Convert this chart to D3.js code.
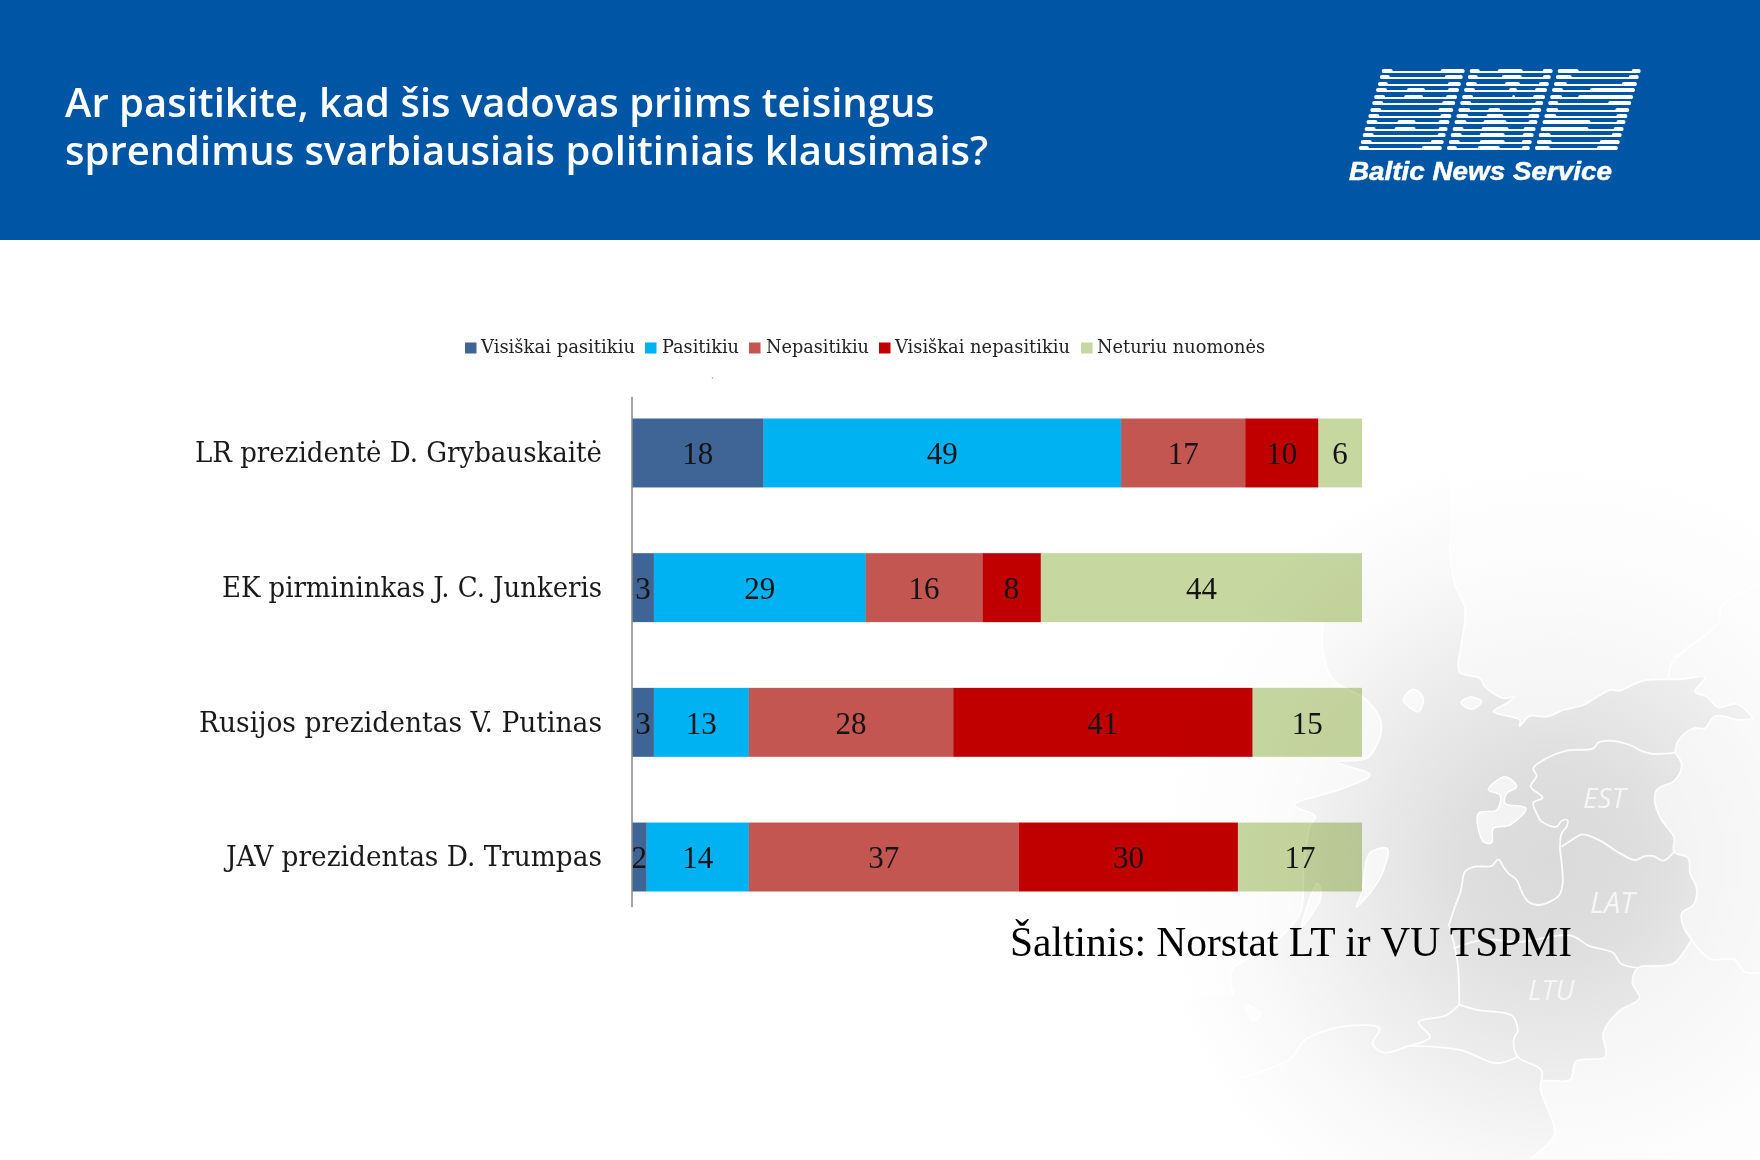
<!DOCTYPE html>
<html lang="lt">
<head>
<meta charset="utf-8">
<script src="https://cdn.jsdelivr.net/npm/d3@7/dist/d3.min.js"></script>
<style>
html,body{margin:0;padding:0;background:#fff;overflow:hidden}
svg{display:block}
.blend{mix-blend-mode:multiply}
</style>
</head>
<body>
<svg id="c" width="1760" height="1160" xmlns="http://www.w3.org/2000/svg"></svg>
<script>
const categories = ["LR prezidentė D. Grybauskaitė","EK pirmininkas J. C. Junkeris","Rusijos prezidentas V. Putinas","JAV prezidentas D. Trumpas"];
const seriesNames = ["Visiškai pasitikiu","Pasitikiu","Nepasitikiu","Visiškai nepasitikiu","Neturiu nuomonės"];
const visiskaiPasitikiu = [18,3,3,2];
const pasitikiu = [49,29,13,14];
const nepasitikiu = [17,16,28,37];
const visiskaiNepasitikiu = [10,8,41,30];
const neturiuNuomones = [6,44,15,17];
const seriesColors = ["#3F6596","#00B2F1","#C35651","#C00000","#C7D7A0"];
const titleLines = ["Ar pasitikite, kad šis vadovas priims teisingus","sprendimus svarbiausiais politiniais klausimais?"];
const sourceText = "Šaltinis: Norstat LT ir VU TSPMI";
const tickWidths = [407,380,403,376];
const legendLayout = [[465,481,154],[645,662,77],[749,766,103],[879,895,175],[1081,1097,168]];

const svg = d3.select("#c");
const defs = svg.append("defs");
const grad = defs.append("radialGradient").attr("id","bg").attr("gradientUnits","userSpaceOnUse")
  .attr("cx",1555).attr("cy",860).attr("r",410);
[[0,"#dadadb"],[.22,"#dedede"],[.48,"#ebebec"],[.74,"#f8f8f9"],[1,"#ffffff"]].forEach(s=>grad.append("stop").attr("offset",s[0]).attr("stop-color",s[1]));

svg.append("rect").attr("width",1760).attr("height",1160).attr("fill","#fff");
svg.append("rect").attr("x",1100).attr("y",240).attr("width",660).attr("height",920).attr("fill","url(#bg)");

/* ---------- background map ---------- */
const A = p=>[1360+p[0]/3,650+p[1]/3], B = p=>[1150+p[0]/2.57,480+p[1]/2.306];
const lineC = d3.line().curve(d3.curveCatmullRom.alpha(.5));
const closedC = d3.line().curve(d3.curveCatmullRomClosed.alpha(.5));
const gm = svg.append("g");

const finlandCoast = [...[[770,140],[780,230],[810,300],[800,380]].map(B),...[[298,65],[360,85],[375,110],[430,145],[465,140],[440,160],[400,185],[480,210],[478,228],[510,198],[560,200],[610,180],[670,165],[750,120],[780,122],[850,92],[960,88],[1035,82],[1005,125],[1040,140],[1075,172],[1130,162],[1180,205]].map(A)];
const finlandRussia = [...[[925,85],[935,40],[980,0]].map(A),...[[1345,410],[1460,330],[1470,290],[1565,240]].map(B)];
const russiaGulf = [[1180,205],[1140,210],[1065,198],[1035,235],[1000,235],[955,272],[945,308]].map(A);
const estNorthWest = [[945,308],[880,312],[850,305],[810,285],[745,272],[715,278],[700,295],[620,302],[560,325],[520,355],[530,378],[512,410],[548,443],[520,458],[530,490],[545,515],[590,530],[605,512],[622,510],[620,530],[605,550],[600,590],[606,650],[608,700],[598,735],[570,755],[535,765],[505,755],[485,725],[470,690],[445,670],[430,650],[415,628],[395,648],[345,650],[315,665],[303,720],[285,770],[265,830]].map(A);
const ltuCoast = [[770,1030],[790,1110],[795,1210]].map(B);
const ltuEastBorder = [[945,308],[965,345],[945,390],[890,420],[885,460],[905,510],[942,562],[942,605],[985,625],[990,670],[1010,715],[1000,765],[965,790],[970,830],[995,870]].map(A).concat([[1392,1060],[1345,1115],[1255,1125],[1240,1160],[1258,1195],[1205,1225],[1165,1275],[1170,1330],[1095,1340],[1080,1383],[1005,1390],[1035,1480],[1040,1510],[980,1565]].map(B));
const estLat = [[605,590],[635,570],[668,553],[720,572],[780,610],[825,630],[855,618],[880,618],[910,632],[942,605]].map(A);
const latLtu = [[780,1080],[860,1060],[950,1065],[1080,1050],[1130,1075],[1190,1090],[1210,1115],[1255,1125]].map(B);
const ltuSouth = [[795,1210],[840,1222],[930,1235],[945,1270],[935,1290],[945,1330],[1005,1360],[1005,1390]].map(B);
const kaliningrad = [[795,1210],[760,1235],[690,1250],[720,1285],[665,1305],[600,1320],[572,1300],[590,1265],[500,1260],[400,1290],[360,1335],[230,1380]].map(B);
const polandNorth = [[665,1305],[800,1315],[890,1345],[945,1330]].map(B);
const latRussia = [[1392,1060],[1440,1105],[1500,1105],[1530,1135],[1568,1135]].map(B);
const swedenCoast = [[445,330],[445,400],[470,460],[560,510],[595,565],[560,640],[480,650],[565,680],[500,710],[370,750],[425,775],[410,800],[395,900],[385,1000],[300,1080],[210,1130],[215,1190]].map(B);

const saaremaa = [[435,380],[470,410],[440,430],[435,460],[498,475],[450,525],[400,535],[395,578],[370,575],[355,490],[410,480],[420,435],[385,420]].map(A);
const gotland = [[160,118],[190,145],[175,185],[130,150]].map(A);
const faro = [[303,158],[333,140],[365,155],[335,178]].map(A);
const oland = [[610,850],[565,860],[552,900],[545,950],[530,985],[590,920]].map(B);
const oland2 = [[430,930],[390,1030],[440,960]].map(B);
const bornholm = [[245,1210],[285,1230],[265,1248]].map(B);

/* lighter land areas */
const poly = d3.line();
gm.append("path").attr("d",lineC(finlandCoast)+"L1760,718L1760,420L1450,420Z").attr("fill","#fff").attr("opacity",.6);
gm.append("path").attr("d",lineC(ltuEastBorder)+"L1760,1160L1760,718"+poly(russiaGulf.slice(0,-1)).replace("M","L")+"Z").attr("fill","#fff").attr("opacity",.6);
gm.append("path").attr("d",lineC(swedenCoast)+"L1150,1000L1150,600Z").attr("fill","#fff").attr("opacity",.6);

const outlines = [finlandCoast,finlandRussia,russiaGulf,estNorthWest,ltuCoast,ltuEastBorder,estLat,latLtu,ltuSouth,kaliningrad,polandNorth,latRussia,swedenCoast];
gm.selectAll("path.o").data(outlines).join("path").attr("class","o")
  .attr("d",lineC).attr("fill","none").attr("stroke","#fff").attr("stroke-width",1.8).attr("stroke-opacity",.9).attr("stroke-linejoin","round");
gm.selectAll("path.i").data([saaremaa,gotland,faro,oland,oland2,bornholm]).join("path").attr("class","i")
  .attr("d",closedC).attr("fill","#fff").attr("fill-opacity",.65).attr("stroke","#fff").attr("stroke-width",1.5);

gm.selectAll("text").data([["EST",1583,808,28],["LAT",1590,913,29],["LTU",1528,1000,28]]).join("text")
  .attr("x",d=>d[1]).attr("y",d=>d[2]).attr("font-size",d=>d[3]).attr("font-family","'Open Sans'").attr("font-style","italic")
  .attr("fill","#f6f6f6").text(d=>d[0]);

/* ---------- header ---------- */
svg.append("rect").attr("width",1760).attr("height",240).attr("fill","#0055A5");
svg.selectAll("text.title").data(titleLines).join("text").attr("class","title")
  .attr("x",65).attr("y",(d,i)=>117+i*48).attr("fill","#fff")
  .attr("font-family","'Open Sans'").attr("font-weight",600).attr("font-size",40).text(d=>d);

/* logo: one array of thick segments per row, per column */
const logoCol1 = [[[0,11],[59,83]],[[0,10],[65,83]],[[0,10],[70,83]],[[0,11],[31,49],[72,83]],[[0,11],[30,49],[72,83]],[[0,11],[70,83]],[[0,11],[68,83]],[[0,11],[72,83]],[[0,11],[31,49],[72,83]],[[0,11],[30,51],[74,83]],[[0,11],[75,83]],[[0,11],[70,83]],[[0,10],[63,83]]];
const logoCol2 = [[[0,10],[28,53],[73,83]],[[0,10],[34,54],[75,83]],[[0,11],[39,54],[73,83]],[[0,11],[45,53],[71,83]],[[0,11],[50,53],[71,83]],[[0,11],[75,83]],[[0,12],[30,42],[73,83]],[[0,12],[30,47],[72,83]],[[0,12],[29,52],[74,83]],[[0,11],[29,56],[71,83]],[[0,11],[29,54],[72,83]],[[0,11],[31,56],[73,83]],[[0,10],[31,53],[75,83]]];
const logoCol3 = [[[0,21],[74,83]],[[0,16],[73,83]],[[0,13],[68,83]],[[0,11],[38,83]],[[0,12],[28,83]],[[0,10],[60,83]],[[0,12],[69,83]],[[0,12],[72,83]],[[0,48],[74,83]],[[0,48],[73,83]],[[0,12],[73,83]],[[0,15],[63,83]],[[0,15],[62,83]]];
const logo = svg.append("g");
[logoCol1,logoCol2,logoCol3].forEach((col,ci)=>{
  col.forEach((segs,r)=>{
    const x0 = 1381.7 + ci*88 - r*1.9, y0 = Math.round(70.7 + r*6.47);
    logo.append("rect").attr("x",x0+1).attr("y",y0).attr("width",81).attr("height",2).attr("fill","#fff");
    segs.forEach(s=>logo.append("rect").attr("x",x0+s[0]).attr("y",y0-2).attr("width",s[1]-s[0]).attr("height",4).attr("rx",2).attr("fill","#fff"));
  });
});
svg.append("text").attr("x",1349).attr("y",180).attr("fill","#fff").attr("stroke","#fff").attr("stroke-width",.5)
  .attr("font-family","'Liberation Sans'").attr("font-weight",700).attr("font-style","italic").attr("font-size",26)
  .attr("textLength",263).attr("lengthAdjust","spacingAndGlyphs").text("Baltic News Service");

/* ---------- chart ---------- */
const allSeries = [visiskaiPasitikiu,pasitikiu,nepasitikiu,visiskaiNepasitikiu,neturiuNuomones];
const rows = categories.map((c,i)=>{const o={cat:c};seriesNames.forEach((n,k)=>o[n]=allSeries[k][i]);return o;});
const x = d3.scaleLinear().domain([0,100]).range([632,1362]);
const y = d3.scaleBand().domain(categories).range([418.5,891.5]).paddingInner(.488);
const color = d3.scaleOrdinal(seriesNames,seriesColors);
const stacked = d3.stack().keys(seriesNames)(rows);
const serif = "'Liberation Serif'";
const labelSerif = "'DejaVu Serif Condensed','DejaVu Serif','Liberation Serif'";

const groups = svg.append("g").selectAll("g").data(stacked).join("g").attr("class","blend").attr("fill",d=>color(d.key));
groups.selectAll("rect").data(d=>d).join("rect")
  .attr("x",d=>x(d[0])).attr("y",d=>y(d.data.cat)).attr("width",d=>x(d[1])-x(d[0])).attr("height",y.bandwidth());

const vals = svg.append("g");
stacked.forEach(s=>{
  vals.selectAll(null).data(s).join("text")
    .attr("x",d=>(x(d[0])+x(d[1]))/2).attr("y",d=>y(d.data.cat)+y.bandwidth()/2).attr("dy","0.36em")
    .attr("text-anchor","middle").attr("font-family",serif).attr("font-size",31).attr("fill","#141414")
    .text(d=>d[1]-d[0]);
});

const axis = svg.append("g").attr("transform","translate(632,0)")
  .call(d3.axisLeft(y).tickSize(0).tickPadding(30));
axis.select(".domain").remove();
axis.append("line").attr("y1",397).attr("y2",907).attr("stroke","#8f8f8f").attr("stroke-width",1.6);
axis.selectAll(".tick text").attr("font-family",labelSerif).attr("font-size",28).attr("fill","#1a1a1a").attr("dy","0.33em")
  .attr("textLength",(d,i)=>tickWidths[i]).attr("lengthAdjust","spacingAndGlyphs");

const leg = svg.append("g").selectAll("g").data(seriesNames).join("g");
leg.append("rect").attr("x",(d,i)=>legendLayout[i][0]).attr("y",342.5).attr("width",11.5).attr("height",11).attr("fill",d=>color(d));
leg.append("text").attr("x",(d,i)=>legendLayout[i][1]).attr("y",353).attr("font-family",labelSerif).attr("font-size",18.5).attr("fill","#222")
  .attr("textLength",(d,i)=>legendLayout[i][2]).attr("lengthAdjust","spacingAndGlyphs").text(d=>d);

svg.append("text").attr("x",1010).attr("y",956).attr("font-family",serif).attr("font-size",43).attr("fill","#000")
  .attr("textLength",562).attr("lengthAdjust","spacingAndGlyphs").text(sourceText);
svg.append("circle").attr("cx",712.5).attr("cy",378).attr("r",.8).attr("fill","#999");
</script>
</body>
</html>
